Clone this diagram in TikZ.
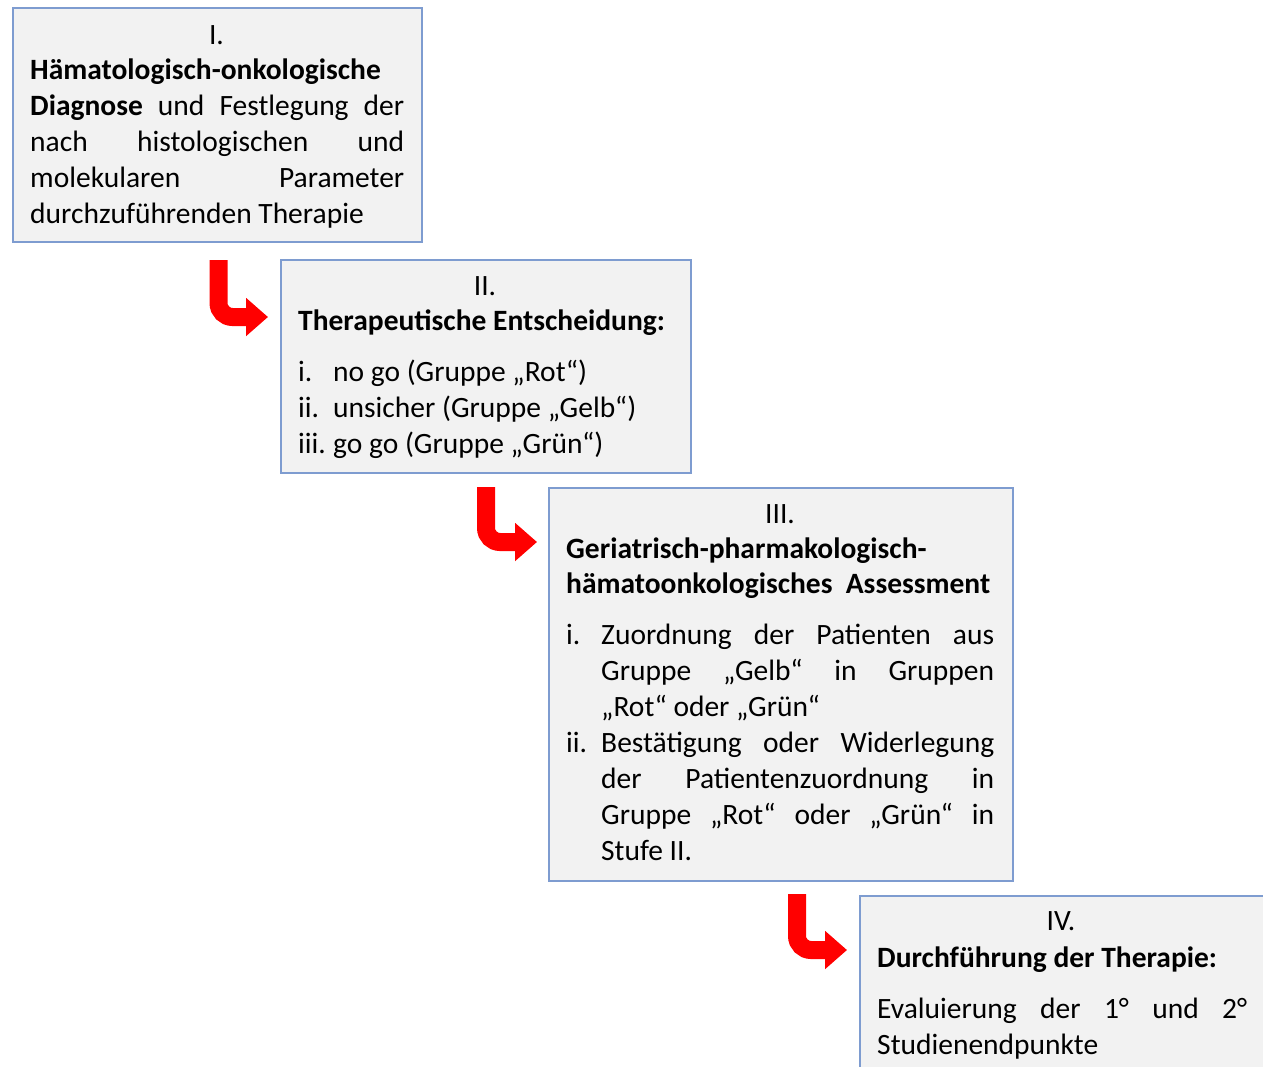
\documentclass[tikz,border=0pt]{standalone}
\usepackage{fontspec}
\setmainfont{Carlito}
\usetikzlibrary{arrows.meta}
\definecolor{boxblue}{HTML}{7E9CD0}
\definecolor{boxgray}{HTML}{F2F2F2}
\definecolor{arrred}{HTML}{FF0000}
\newcommand{\fsz}{\fontsize{29.5}{36}\selectfont}
\tikzset{
  box/.style={draw=boxblue, line width=2pt, fill=boxgray, rectangle, inner sep=0pt, anchor=north west},
  txt/.style={inner sep=0pt, anchor=base west, font=\fsz, text=black},
  ctxt/.style={inner sep=0pt, anchor=base, font=\fsz, text=black},
  redarrow/.style={draw=arrred, line width=18pt, rounded corners=14pt, -{Triangle[length=22pt,width=37pt]}}
}
\begin{document}
\begin{tikzpicture}[x=1pt,y=-1pt]
\useasboundingbox (0,0) rectangle (1263,1066);
\clip (0,0) rectangle (1263,1066);
\fill[white] (0,0) rectangle (1263,1066);
% boxes
\node[box, minimum width=409pt, minimum height=234pt] (I) at (12,7) {};
\node[box, minimum width=410pt, minimum height=213pt] (II) at (280,259) {};
\node[box, minimum width=464pt, minimum height=393pt] (III) at (548,487) {};
\node[box, minimum width=500pt, minimum height=250pt] (IV) at (859,895) {};
% box I text
\node[ctxt] (I0) at (216.5,44) {I.};
\node[txt] (I1) at (30,79) {\textbf{Hämatologisch-onkologische}};
\node[txt] (I2) at (30,115) {\makebox[374pt][s]{\textbf{Diagnose} und Festlegung der}};
\node[txt] (I3) at (30,151) {\makebox[374pt][s]{nach histologischen und}};
\node[txt] (I4) at (30,187) {\makebox[374pt][s]{molekularen Parameter}};
\node[txt] (I5) at (30,223) {durchzuführenden Therapie};
% box II text
\node[ctxt] (II0) at (485,295) {II.};
\node[txt] (II1) at (298,330) {\textbf{Therapeutische Entscheidung:}};
\node[txt] (II2a) at (298,381) {i.};
\node[txt] (II2) at (333,381) {no go (Gruppe „Rot“)};
\node[txt] (II3a) at (298,417) {ii.};
\node[txt] (II3) at (333,417) {unsicher (Gruppe „Gelb“)};
\node[txt] (II4a) at (298,453) {iii.};
\node[txt] (II4) at (333,453) {go go (Gruppe „Grün“)};
% box III text
\node[ctxt] (III0) at (780,523) {III.};
\node[txt] (III1) at (566,558) {\textbf{Geriatrisch-pharmakologisch-}};
\node[txt] (III2) at (566,593) {\makebox[424pt][s]{\textbf{hämatoonkologisches Assessment}}};
\node[txt] (III3a) at (566,644) {i.};
\node[txt] (III3) at (601,644) {\makebox[393pt][s]{Zuordnung der Patienten aus}};
\node[txt] (III4) at (601,680) {\makebox[393pt][s]{Gruppe „Gelb“ in Gruppen}};
\node[txt] (III5) at (601,716) {„Rot“ oder „Grün“};
\node[txt] (III6a) at (566,752) {ii.};
\node[txt] (III6) at (601,752) {\makebox[393pt][s]{Bestätigung oder Widerlegung}};
\node[txt] (III7) at (601,788) {\makebox[393pt][s]{der Patientenzuordnung in}};
\node[txt] (III8) at (601,824) {\makebox[393pt][s]{Gruppe „Rot“ oder „Grün“ in}};
\node[txt] (III9) at (601,860) {Stufe II.};
% box IV text
\node[ctxt] (IV0) at (1061,930) {IV.};
\node[txt] (IV1) at (877,967) {\textbf{Durchführung der Therapie:}};
\node[txt] (IV2) at (877,1018) {\makebox[370pt][s]{Evaluierung der 1° und 2°}};
\node[txt] (IV3) at (877,1054) {Studienendpunkte};
% arrows
\draw[redarrow] ([xshift=1pt,yshift=-17pt]I.south) |- ([xshift=-12pt,yshift=-58pt]II.north west);
\draw[redarrow] ([yshift=-13pt]II.south) |- ([xshift=-11pt,yshift=-55pt]III.north west);
\draw[redarrow] ([xshift=16pt,yshift=-12pt]III.south) |- ([xshift=-12pt,yshift=-55pt]IV.north west);
\end{tikzpicture}
\end{document}
